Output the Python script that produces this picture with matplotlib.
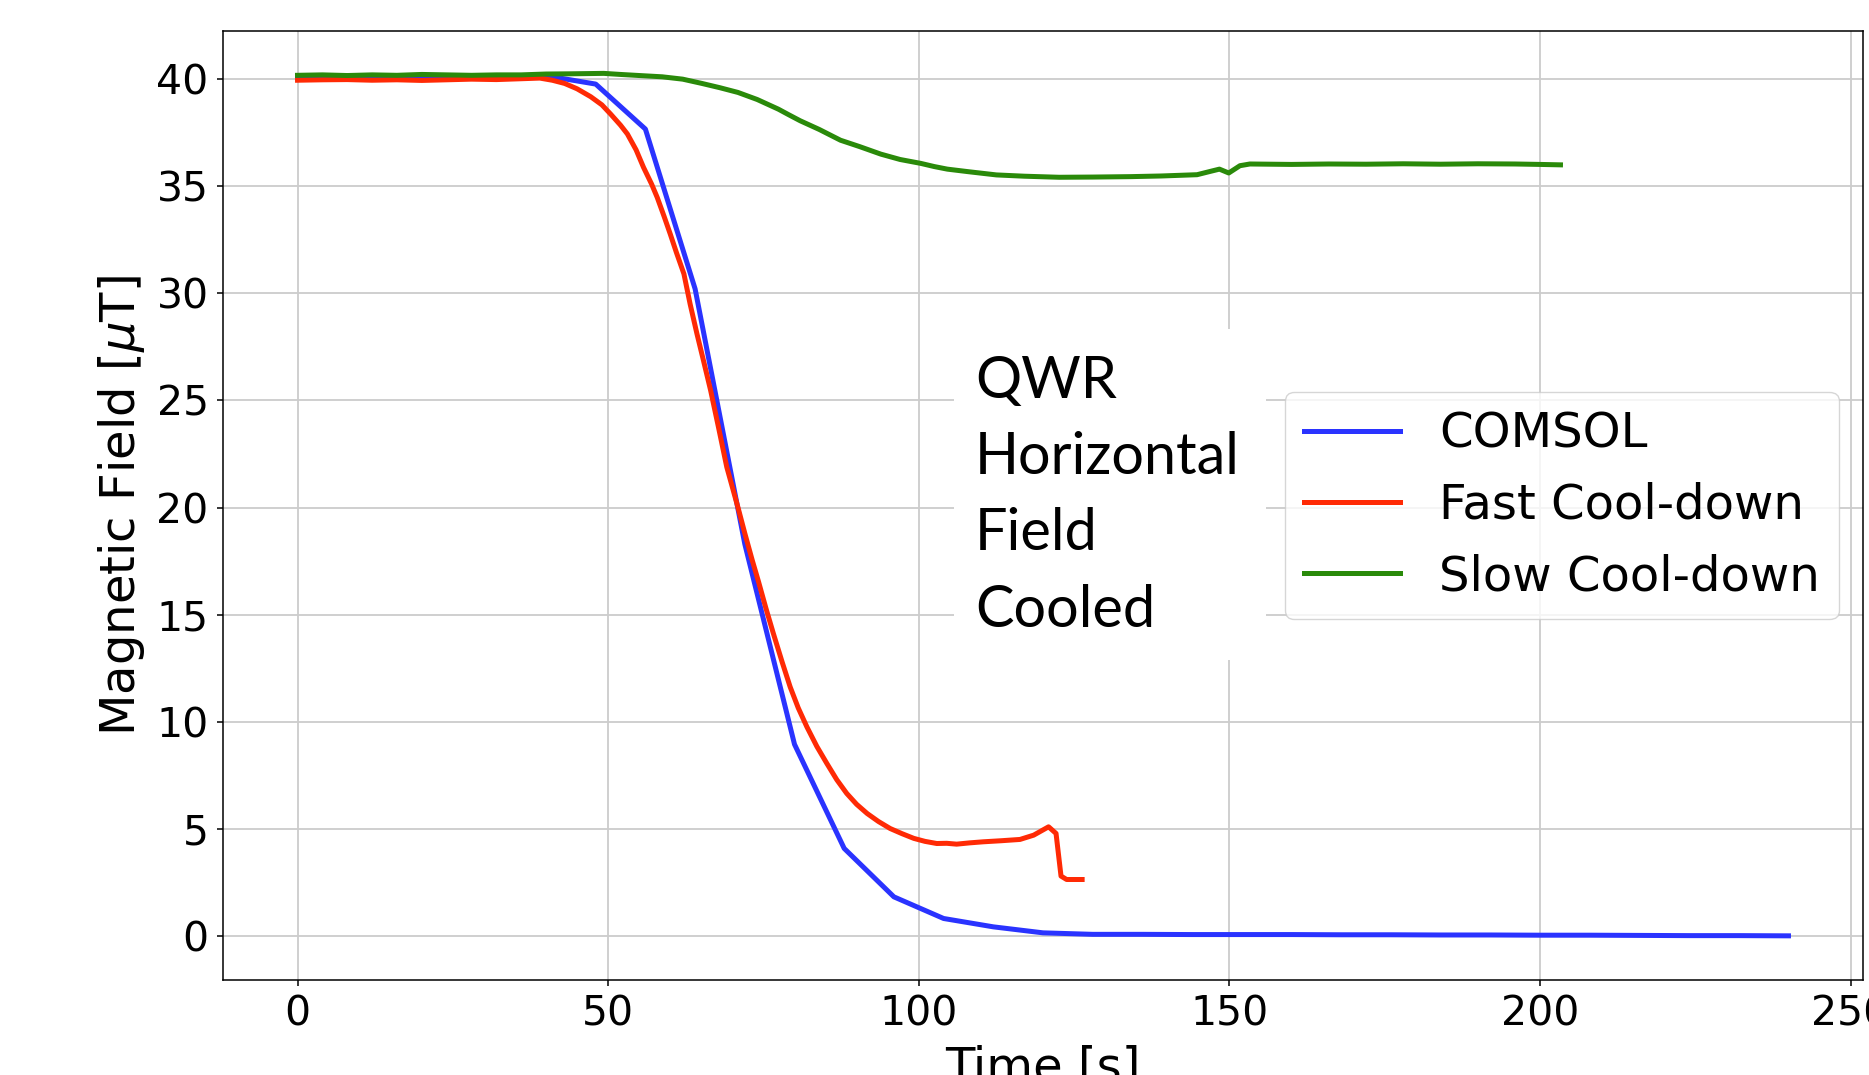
import numpy as np
import matplotlib
matplotlib.use("Agg")
import matplotlib.pyplot as plt
from matplotlib.patches import Rectangle

# ---------- data ----------
# COMSOL simulation (vertices every 8 s)
comsol_t = [0, 8, 16, 24, 32, 40, 48, 56, 64, 72, 80, 88, 96, 104, 112, 120,
            128, 136, 144, 152, 160, 168, 176, 184, 192, 200, 208, 216, 224, 232, 240]
comsol_b = [40.10, 40.12, 40.13, 40.14, 40.15, 40.16, 39.77, 37.67, 30.21, 18.30,
            8.95, 4.09, 1.83, 0.82, 0.43, 0.15,
            0.08, 0.08, 0.07, 0.07, 0.07, 0.06, 0.06, 0.05, 0.05, 0.04, 0.04, 0.03,
            0.02, 0.02, 0.01]

# fast cool-down measurement
fast_t = [0, 4, 8, 12, 16, 20, 24, 28, 32, 36, 39, 41, 43, 45, 47.2, 49, 50.4, 52,
          53.1, 54.5, 55.7, 57, 57.9, 59, 60, 61, 62.2, 63.2, 64.3, 65.4, 66.5, 67.8,
          69.1, 70, 71, 72, 73.2, 74.2, 75.4, 76.6, 78, 79.3, 80.6, 82, 83.6, 85.2,
          86.8, 88.4, 90, 91.7, 93.5, 95.4, 97.3, 99.2, 101, 102.9, 104.5, 106.1,
          108.2, 110.4, 113.3, 116.3, 118.5, 120.9, 122.1, 122.9, 123.8, 126.3]
fast_b = [39.95, 39.97, 39.98, 39.95, 39.97, 39.94, 39.97, 40.00, 39.98, 40.02,
          40.05, 39.95, 39.80, 39.55, 39.18, 38.80, 38.37, 37.85, 37.44, 36.70,
          35.88, 35.10, 34.48, 33.60, 32.77, 31.90, 30.91, 29.50, 28.11, 26.80,
          25.47, 23.70, 21.89, 20.95, 19.90, 18.80, 17.54, 16.55, 15.30, 14.12,
          12.80, 11.63, 10.65, 9.76, 8.85, 8.06, 7.30, 6.66, 6.15, 5.72, 5.35,
          5.02, 4.78, 4.56, 4.42, 4.32, 4.33, 4.29, 4.35, 4.40, 4.45, 4.51, 4.71,
          5.10, 4.79, 2.80, 2.64, 2.64]

# slow cool-down measurement
slow_t = [0, 4, 8, 12, 16, 20, 24, 28, 32, 36, 40, 44, 49.3, 52, 55, 58.7, 62,
          65.1, 68, 70.9, 74, 77.4, 79, 80.9, 84, 87.4, 90.5, 93.9, 97, 100.3,
          102.5, 104.6, 108, 112.5, 117, 122.6, 128, 134.1, 139, 144.8, 147, 148.4,
          149.9, 151.7, 153.3, 160, 166, 172, 178, 184, 190, 196, 200, 203.3]
slow_b = [40.18, 40.20, 40.17, 40.20, 40.18, 40.22, 40.20, 40.18, 40.20, 40.20,
          40.24, 40.25, 40.27, 40.22, 40.17, 40.11, 40.00, 39.80, 39.60, 39.38,
          39.05, 38.60, 38.35, 38.06, 37.65, 37.15, 36.85, 36.50, 36.25, 36.07,
          35.92, 35.80, 35.68, 35.53, 35.47, 35.42, 35.43, 35.45, 35.48, 35.54,
          35.70, 35.80, 35.62, 35.96, 36.04, 36.02, 36.04, 36.03, 36.05, 36.03,
          36.05, 36.04, 36.02, 36.00]

labels = ["COMSOL", "Fast Cool-down", "Slow Cool-down"]
note = "QWR\nHorizontal\nField\nCooled"

# ---------- figure ----------
plt.rcParams['font.family'] = ['DejaVu Sans']
fig = plt.figure(figsize=(18.69, 10.75), dpi=100)
ax = fig.add_axes([0.1193, 0.0884, 0.9968 - 0.1193, 0.9712 - 0.0884])

lw = 3.6
ax.plot(comsol_t, comsol_b, color='#2a33ff', lw=lw, label=labels[0])
ax.plot(fast_t, fast_b, color='#ff2a05', lw=lw, label=labels[1])
ax.plot(slow_t, slow_b, color='#2a8a0a', lw=lw, label=labels[2])

ax.set_xlim(-12, 252)
ax.set_ylim(-2.05, 42.25)
ax.set_xticks([0, 50, 100, 150, 200, 250])
ax.set_yticks(range(0, 41, 5))
ax.grid(True, color='#cccccc', lw=1.3)
ax.tick_params(labelsize=29.5, length=4.3, width=1.1, pad=6)
for s in ax.spines.values():
    s.set_linewidth(1.1)

ax.set_xlabel('Time [s]', fontsize=34.7, labelpad=7)
ax.set_ylabel(r'Magnetic Field [$\mu$T]', fontsize=34.7, labelpad=7)

ax.legend(loc='center right', fontsize=34.7)

# white note box pasted over the plot
fig.patches.append(Rectangle((954 / 1869, 1 - 660 / 1075), 312 / 1869, 331 / 1075,
                             transform=fig.transFigure, facecolor='white',
                             edgecolor='none', zorder=5))
fig.text(975 / 1869, 1 - 355 / 1075, note, family='Lato', fontsize=41.5,
         ha='left', va='top', linespacing=1.54, zorder=6)

plt.savefig('out.png', dpi=100)
